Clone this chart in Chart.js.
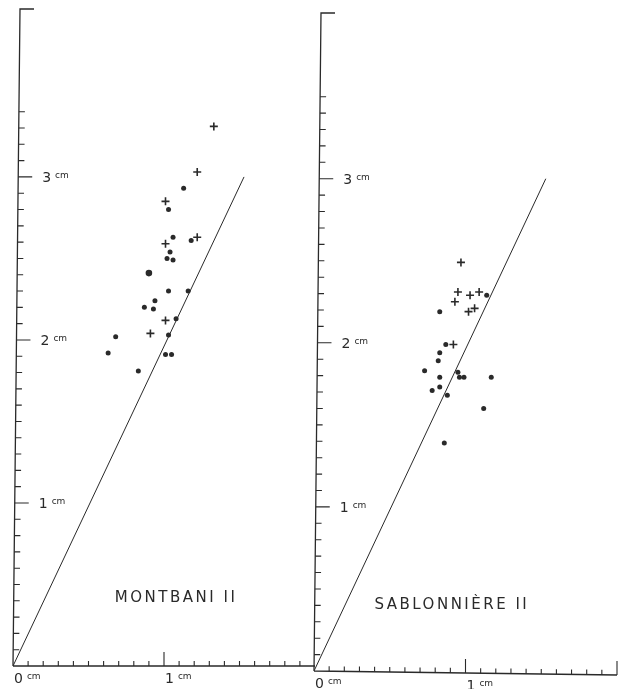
<!DOCTYPE html>
<html>
<head>
<meta charset="utf-8">
<script src="https://cdn.jsdelivr.net/npm/chart.js@4/dist/chart.umd.min.js"></script>
<style>
  body { margin: 0; background: #fff; }
  #wrap { position: relative; width: 624px; height: 689px; }
  #wrap canvas { position: absolute; left: 0; top: 0; }
</style>
</head>
<body>
<div id="wrap">
  <canvas id="left" width="624" height="689"></canvas>
  <canvas id="right" width="624" height="689"></canvas>
</div>
<script>
// reference line drawn on both panels (cm)
const lineX = [0, 1.53]
const lineY = [0, 3.0]

// Montbani II : dots
const montDotsX = [1.13, 1.03, 1.06, 1.18, 1.04, 1.02, 1.06, 1.03, 1.16, 0.94, 0.87, 0.93, 1.08, 1.03, 0.68, 0.63, 1.01, 1.05, 0.83]
const montDotsY = [2.93, 2.80, 2.63, 2.61, 2.54, 2.50, 2.49, 2.30, 2.30, 2.24, 2.20, 2.19, 2.13, 2.03, 2.02, 1.92, 1.91, 1.91, 1.81]
const montBigX = [0.90]
const montBigY = [2.41]
// Montbani II : crosses
const montCrossX = [1.33, 1.22, 1.01, 1.22, 1.01, 1.01, 0.91]
const montCrossY = [3.31, 3.03, 2.85, 2.63, 2.59, 2.12, 2.04]

// Sablonniere II : dots
const sabDotsX = [1.14, 0.83, 0.87, 0.83, 0.82, 0.73, 0.83, 0.95, 0.96, 0.99, 1.17, 0.78, 0.83, 0.88, 1.12, 0.86]
const sabDotsY = [2.29, 2.19, 1.99, 1.94, 1.89, 1.83, 1.79, 1.82, 1.79, 1.79, 1.79, 1.71, 1.73, 1.68, 1.60, 1.39]
// Sablonniere II : crosses
const sabCrossX = [0.97, 0.95, 1.03, 1.09, 0.93, 1.02, 1.06, 0.92]
const sabCrossY = [2.49, 2.31, 2.29, 2.31, 2.25, 2.19, 2.21, 1.99]

// axis labels
const xTickValues = [0, 1]
const xTickNums = ['0', '1']
const yTickValues = [1, 2, 3]
const yTickNums = ['1', '2', '3']
const unit = 'cm'

const ink = '#2a2a2a'

const toPoints = (xs, ys) => xs.map((x, i) => ({ x, y: ys[i] }))

// hand drawn looking axes, ticks pointing inwards
const handAxes = {
  id: 'handAxes',
  beforeDatasetsDraw(chart, args, opts) {
    const ctx = chart.ctx
    const sx = chart.scales.x
    const sy = chart.scales.y
    const x0 = sx.getPixelForValue(0)
    const y0 = sy.getPixelForValue(0)
    const xEnd = sx.getPixelForValue(2)
    const yTop = sy.getPixelForValue(sy.max)

    ctx.save()
    ctx.strokeStyle = ink
    ctx.lineWidth = 1.3
    ctx.beginPath()
    // y axis with a little bracket at the top
    ctx.moveTo(x0, y0)
    ctx.lineTo(x0 + opts.lean, yTop)
    ctx.lineTo(x0 + opts.lean + 14, yTop)
    // x axis
    ctx.moveTo(x0, y0)
    ctx.lineTo(xEnd, y0 + opts.tilt)
    ctx.stroke()

    ctx.lineWidth = 1.1
    ctx.beginPath()
    for (let i = 1; i <= 20; i++) {
      const px = sx.getPixelForValue(i / 10)
      const py = y0 + opts.tilt * i / 20
      const len = i % 10 === 0 ? 14 : 5
      if (i === 20 && !opts.endTick) continue
      ctx.moveTo(px, py)
      ctx.lineTo(px, py - len)
    }
    for (let i = 1; i <= opts.yTickTop * 10; i++) {
      const v = i / 10
      const py = sy.getPixelForValue(v)
      const px = x0 + opts.lean * v / sy.max
      const len = i % 10 === 0 ? 14 : 6
      ctx.moveTo(px, py)
      ctx.lineTo(px + len, py)
    }
    ctx.stroke()

    // labels: number + small "cm"
    ctx.fillStyle = ink
    ctx.textBaseline = 'alphabetic'
    const drawLabel = (num, px, py) => {
      ctx.font = '14px "DejaVu Sans"'
      ctx.textAlign = 'left'
      ctx.fillText(num, px, py)
      const w = ctx.measureText(num).width
      ctx.font = '9px "DejaVu Sans"'
      ctx.fillText(unit, px + w + 4, py - 4)
    }
    xTickValues.forEach((v, i) => {
      drawLabel(xTickNums[i], sx.getPixelForValue(v) + 1, y0 + opts.tilt * v / 2 + 17)
    })
    yTickValues.forEach((v, i) => {
      drawLabel(yTickNums[i], x0 + opts.lean * v / sy.max + 24, sy.getPixelForValue(v) + 5)
    })

    // panel name
    ctx.font = '15px "DejaVu Sans"'
    ctx.letterSpacing = '2.5px'
    ctx.textAlign = 'center'
    ctx.fillText(opts.title, sx.getPixelForValue(opts.titleAt[0]), sy.getPixelForValue(opts.titleAt[1]))
    ctx.restore()
  },
}

function makeChart(id, dots, bigDots, crosses, pad, yMax, axisOpts) {
  const datasets = [
    {
      type: 'line',
      data: toPoints(lineX, lineY),
      borderColor: ink,
      borderWidth: 1,
      pointRadius: 0,
      tension: 0,
    },
    {
      data: dots,
      pointStyle: 'circle',
      pointRadius: 2.5,
      backgroundColor: ink,
      borderWidth: 0,
    },
    {
      data: bigDots,
      pointStyle: 'circle',
      pointRadius: 3.3,
      backgroundColor: ink,
      borderWidth: 0,
    },
    {
      data: crosses,
      pointStyle: 'cross',
      pointRadius: 4,
      borderColor: ink,
      borderWidth: 1.6,
    },
  ]
  return new Chart(document.getElementById(id), {
    type: 'scatter',
    data: { datasets },
    options: {
      responsive: false,
      animation: false,
      events: [],
      layout: { padding: pad, autoPadding: false },
      scales: {
        x: { type: 'linear', min: 0, max: 2, display: false },
        y: { type: 'linear', min: 0, max: yMax, display: false },
      },
      plugins: {
        legend: { display: false },
        tooltip: { enabled: false },
        handAxes: axisOpts,
      },
    },
    plugins: [handAxes],
  })
}

makeChart(
  'left',
  toPoints(montDotsX, montDotsY),
  toPoints(montBigX, montBigY),
  toPoints(montCrossX, montCrossY),
  { left: 13, right: 309, top: 9, bottom: 23 },
  4.03,
  { lean: 7, tilt: 0, yTickTop: 3.4, endTick: false, title: 'MONTBANI II', titleAt: [1.08, 0.39] }
)

makeChart(
  'right',
  toPoints(sabDotsX, sabDotsY),
  [],
  toPoints(sabCrossX, sabCrossY),
  { left: 314, right: 7, top: 13, bottom: 18 },
  4.01,
  { lean: 7, tilt: 4, yTickTop: 3.5, endTick: true, title: 'SABLONNIÈRE II', titleAt: [0.91, 0.38] }
)
</script>
</body>
</html>
